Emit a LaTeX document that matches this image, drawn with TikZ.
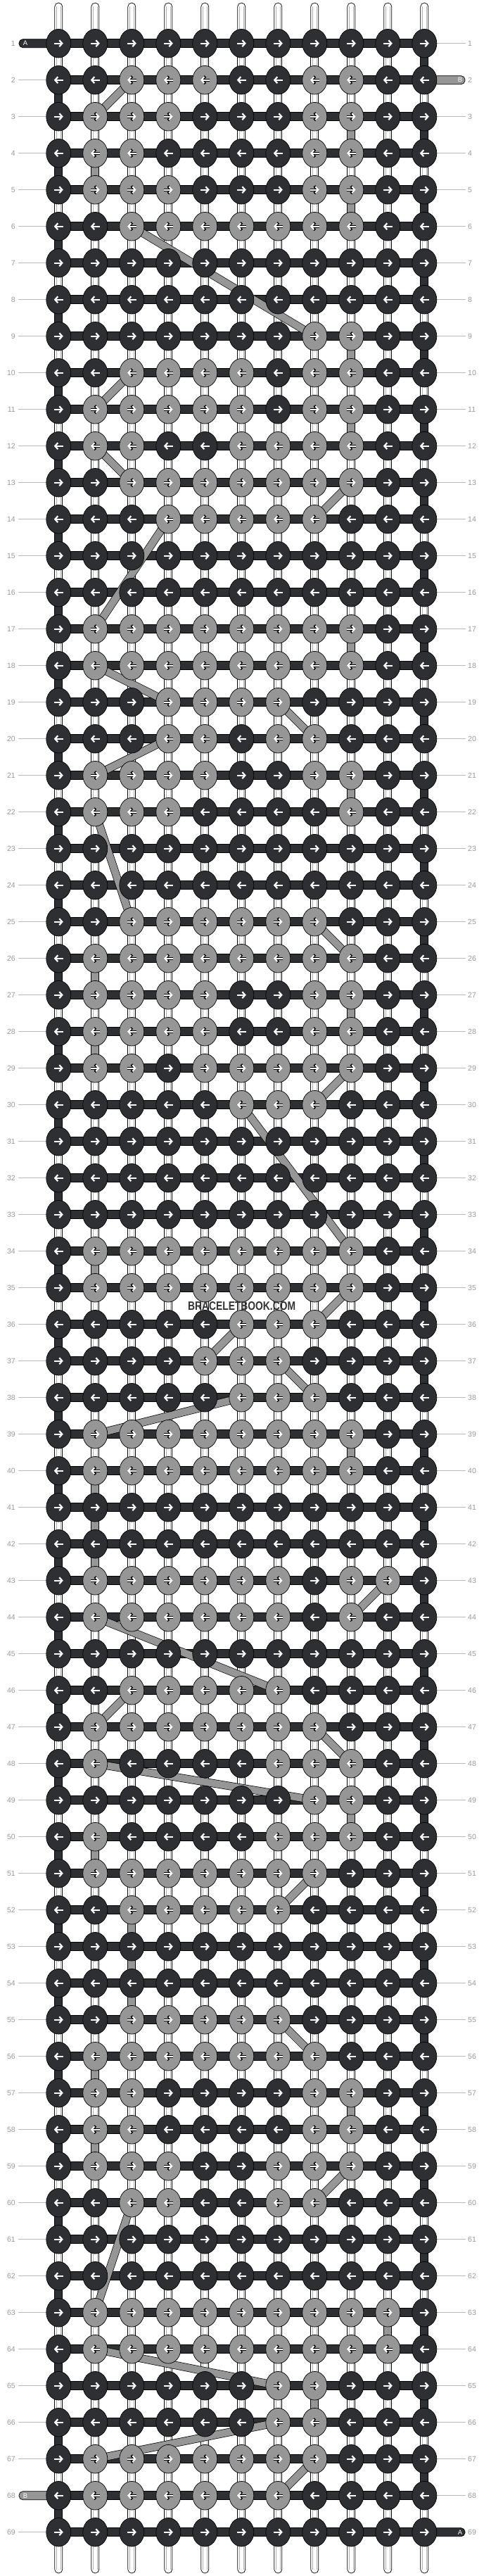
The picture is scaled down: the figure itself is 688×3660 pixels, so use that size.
\documentclass[tikz,border=0pt]{standalone}
\usepackage{fontspec}
\setmainfont{Liberation Sans}
\usepackage{graphicx}
\usetikzlibrary{shapes.geometric,arrows.meta}
\definecolor{knotD}{HTML}{2E2F33}
\definecolor{knotG}{HTML}{969696}
\definecolor{lblC}{HTML}{9A9A9A}
\definecolor{lineC}{HTML}{B8B8B8}
\definecolor{wmC}{HTML}{333333}
\pgfdeclarelayer{back}\pgfdeclarelayer{bg}\pgfdeclarelayer{mid}
\pgfsetlayers{back,bg,mid,main}
\def\knotrows{%
{0,0,0,0,0,0,0,0,0,0,0},%
{0,0,1,1,1,0,0,1,1,0,0},%
{0,1,1,1,0,0,0,1,1,0,0},%
{0,1,1,0,0,0,0,1,1,0,0},%
{0,1,1,1,0,0,0,1,1,0,0},%
{0,0,1,1,1,1,1,1,1,0,0},%
{0,0,0,0,0,0,0,0,0,0,0},%
{0,0,0,0,0,0,0,0,0,0,0},%
{0,0,0,0,0,0,0,1,1,0,0},%
{0,0,1,1,1,1,0,1,1,0,0},%
{0,1,1,1,1,1,0,1,1,0,0},%
{0,1,1,0,0,1,1,1,1,0,0},%
{0,0,1,1,1,1,1,1,1,0,0},%
{0,0,0,1,1,1,1,1,0,0,0},%
{0,0,0,0,0,0,0,0,0,0,0},%
{0,0,0,0,0,0,0,0,0,0,0},%
{0,1,1,1,1,1,1,1,1,0,0},%
{0,1,1,1,1,1,1,1,1,0,0},%
{0,0,0,1,1,1,1,0,0,0,0},%
{0,0,0,1,1,0,1,1,0,0,0},%
{0,1,1,1,1,0,0,1,1,0,0},%
{0,1,1,1,0,0,0,0,1,0,0},%
{0,0,0,0,0,0,0,0,0,0,0},%
{0,0,0,0,0,0,0,0,0,0,0},%
{0,0,1,1,1,1,1,1,0,0,0},%
{0,1,1,1,1,1,1,1,1,0,0},%
{0,1,1,1,1,0,0,1,1,0,0},%
{0,1,1,1,1,0,0,1,1,0,0},%
{0,1,1,0,1,1,1,1,1,0,0},%
{0,0,0,0,0,1,1,1,0,0,0},%
{0,0,0,0,0,0,0,0,0,0,0},%
{0,0,0,0,0,0,0,0,0,0,0},%
{0,0,0,0,0,0,0,0,0,0,0},%
{0,1,1,1,1,1,1,1,1,0,0},%
{0,1,1,1,1,1,1,1,1,0,0},%
{0,0,0,0,0,1,1,1,0,0,0},%
{0,0,0,0,1,1,1,0,0,0,0},%
{0,0,0,0,0,1,1,1,0,0,0},%
{0,1,1,1,1,1,1,1,1,0,0},%
{0,1,1,1,1,1,1,1,1,0,0},%
{0,0,0,0,0,0,0,0,0,0,0},%
{0,0,0,0,0,0,0,0,0,0,0},%
{0,1,1,1,1,1,1,0,1,1,0},%
{0,1,1,1,1,1,1,0,1,0,0},%
{0,0,0,0,0,0,0,0,0,0,0},%
{0,0,1,1,1,1,1,0,0,0,0},%
{0,1,1,1,1,1,1,1,0,0,0},%
{0,1,0,0,0,0,1,1,1,0,0},%
{0,0,0,0,0,0,0,1,1,0,0},%
{0,1,0,0,0,0,1,1,1,0,0},%
{0,1,1,1,1,1,1,1,0,0,0},%
{0,0,1,1,1,1,1,0,0,0,0},%
{0,0,0,0,0,0,0,0,0,0,0},%
{0,0,0,0,0,0,0,0,0,0,0},%
{0,0,1,1,1,1,1,0,0,0,0},%
{0,1,1,1,1,1,1,1,0,0,0},%
{0,1,1,0,0,0,0,1,1,0,0},%
{0,1,1,0,0,0,0,1,1,0,0},%
{0,1,1,1,0,0,1,1,1,0,0},%
{0,0,1,1,0,0,1,1,0,0,0},%
{0,0,0,0,0,0,0,0,0,0,0},%
{0,0,0,0,0,0,0,0,0,0,0},%
{0,1,1,1,1,1,1,1,1,1,0},%
{0,1,1,1,1,1,1,1,1,1,0},%
{0,0,0,0,0,0,1,1,0,0,0},%
{0,0,0,0,0,0,1,1,0,0,0},%
{0,1,1,1,1,1,1,1,0,0,0},%
{0,1,1,1,1,1,1,0,0,0,0},%
{0,0,0,0,0,0,0,0,0,0,0}%
}
\begin{document}
\begin{tikzpicture}[x=1pt,y=-1pt,
 knot/.style={ellipse,draw=black,line width=0.7pt,minimum width=35pt,minimum height=40.6pt,inner sep=0pt},
 arrW/.style={white,line width=2.2pt,-{Straight Barb[length=4pt,width=9pt]}},
 arrK/.style={black,line width=3.6pt,-{Straight Barb[length=4.6pt,width=10.6pt]}},
 wconn/.style={draw=black,fill=white,line width=0.7pt},
 wline/.style={draw=black!30,line width=0.6pt},
 hbar/.style={draw=black,fill=knotD,line width=0.7pt},
 gbar/.style={draw=black,fill=knotG,line width=0.7pt},
 strandOut/.style={black,line width=11.4pt},
 strandD/.style={knotD,line width=10pt},
 strandG/.style={knotG,line width=10pt},
 lbl/.style={text=lblC,font=\fontsize{10.5}{10.5}\selectfont,inner sep=0pt},
 lblline/.style={draw=lineC,line width=0.8pt},
 stubtxt/.style={text=white,font=\fontsize{9.5}{9.5}\selectfont,inner sep=0pt}
]
\useasboundingbox (0,0) rectangle (688,3660);
\begin{pgfonlayer}{back}
 \fill[white] (0,0) rectangle (688,3660);
\end{pgfonlayer}
% knots
\foreach \rowdat [count=\ri] in \knotrows {%
 \ifodd\ri \def\ax{-6.5}\def\bx{13}\else \def\ax{6.5}\def\bx{-13}\fi
 \foreach \vv [count=\ci] in \rowdat {%
   \ifnum\vv=1 \def\kc{knotG}\else \def\kc{knotD}\fi
   \node[knot,fill=\kc] (k-\ri-\ci) at ({83.3+52*(\ci-1)},{61.7+52*(\ri-1)}) {};
   \ifnum\vv=1 \draw[arrK] (k-\ri-\ci.center) ++(\ax,0) -- ++(\bx,0); \fi
   \draw[arrW] (k-\ri-\ci.center) ++(\ax,0) -- ++(\bx,0);
 }
}
% background connectors
\begin{pgfonlayer}{bg}
 \foreach \ri in {1,...,68}{
   \pgfmathtruncatemacro\rn{\ri+1}
   \foreach \ci in {1,...,11}{
     \draw[wconn] ([xshift=-5.5pt]k-\ri-\ci.center) rectangle ([xshift=5.5pt]k-\rn-\ci.center);
     \draw[wline] ([xshift=-2.6pt]k-\ri-\ci.center) -- ([xshift=-2.6pt]k-\rn-\ci.center);
     \draw[wline] ([xshift=2.6pt]k-\ri-\ci.center) -- ([xshift=2.6pt]k-\rn-\ci.center);
   }
 }
 \foreach \ci in {1,...,11}{
   \coordinate (top-\ci) at ({83.3+52*(\ci-1)},4);
   \coordinate (bot-\ci) at ({83.3+52*(\ci-1)},3656);
   \draw[wconn,rounded corners=5.5pt] ([xshift=-5.5pt]top-\ci) rectangle ([xshift=5.5pt]k-1-\ci.center);
   \draw[wline] ([xshift=-2.6pt,yshift=-5pt]top-\ci) -- ([xshift=-2.6pt]k-1-\ci.center);
   \draw[wline] ([xshift=2.6pt,yshift=-5pt]top-\ci) -- ([xshift=2.6pt]k-1-\ci.center);
   \draw[wconn,rounded corners=5.5pt] ([xshift=-5.5pt]k-69-\ci.center) rectangle ([xshift=5.5pt]bot-\ci);
   \draw[wline] ([xshift=-2.6pt]k-69-\ci.center) -- ([xshift=-2.6pt,yshift=5pt]bot-\ci);
   \draw[wline] ([xshift=2.6pt]k-69-\ci.center) -- ([xshift=2.6pt,yshift=5pt]bot-\ci);
 }
 % row labels and guide lines
 \foreach \ri in {1,...,69}{
   \node[lbl,anchor=east] (ll-\ri) at (22,{61.7+52*(\ri-1)}) {\ri};
   \node[lbl,anchor=west] (rl-\ri) at (665,{61.7+52*(\ri-1)}) {\ri};
   \coordinate (lls-\ri) at (26,{61.7+52*(\ri-1)});
   \coordinate (rle-\ri) at (662,{61.7+52*(\ri-1)});
 }
 \foreach \ri in {2,...,67,69}{
   \draw[lblline] (lls-\ri) -- (k-\ri-1.west);
 }
 \foreach \ri in {1,3,4,...,68}{
   \draw[lblline] (k-\ri-11.east) -- (rle-\ri);
 }
 % strand ends
 \coordinate (aL) at (27,61.7);
 \coordinate (bR) at (661,113.7);
 \coordinate (bL) at (27,{61.7+52*67});
 \coordinate (aR) at (661,{61.7+52*68});
 \draw[hbar,rounded corners=5.5pt] ([yshift=6pt]aL) rectangle ([yshift=-6pt]k-1-1.center);
 \draw[gbar,rounded corners=5.5pt] ([yshift=6pt]k-2-11.center) rectangle ([yshift=-6pt]bR);
 \draw[gbar,rounded corners=5.5pt] ([yshift=6pt]bL) rectangle ([yshift=-6pt]k-68-1.center);
 \draw[hbar,rounded corners=5.5pt] ([yshift=6pt]k-69-11.center) rectangle ([yshift=-6pt]aR);
 \node[stubtxt] (aLt) at (36,61.7) {A};
 \node[stubtxt] (bRt) at (654,113.7) {B};
 \node[stubtxt] (bLt) at (36,{61.7+52*67}) {B};
 \node[stubtxt] (aRt) at (654,{61.7+52*68}) {A};
\end{pgfonlayer}
% rows and carried strands
\begin{pgfonlayer}{mid}
 \foreach \ri in {1,...,69}{
   \draw[hbar] ([yshift=6pt]k-\ri-1.center) rectangle ([yshift=-6pt]k-\ri-11.center);
 }
 \foreach \ri in {1,...,68}{
   \pgfmathtruncatemacro\rn{\ri+1}
   \ifodd\ri \def\ac{11}\else \def\ac{1}\fi
   \draw[strandOut] (k-\ri-\ac.center) -- (k-\rn-\ac.center);
   \draw[strandD] (k-\ri-\ac.center) -- (k-\rn-\ac.center);
 }
 \foreach \ra/\ca/\rb/\cb in {2/3/3/2, 3/9/4/9, 4/2/5/2, 5/9/6/9, 6/3/9/8, 9/9/10/9, 10/3/11/2, 11/9/12/9, 12/2/13/3, 13/9/14/8, 14/4/17/2, 17/9/18/9, 18/2/19/4, 19/7/20/8, 20/4/21/2, 21/9/22/9, 22/2/25/3, 25/8/26/9, 26/2/27/2, 27/9/28/9, 28/2/29/2, 29/9/30/8, 30/6/34/9, 34/2/35/2, 35/9/36/8, 36/6/37/5, 37/7/38/8, 38/6/39/2, 39/9/40/9, 40/2/43/2, 43/10/44/9, 44/2/46/7, 46/3/47/2, 47/8/48/9, 48/2/49/8, 49/9/50/9, 50/2/51/2, 51/8/52/7, 52/3/55/3, 55/7/56/8, 56/2/57/2, 57/9/58/9, 58/2/59/2, 59/9/60/8, 60/3/63/2, 63/10/64/10, 64/2/65/7, 65/8/66/8, 66/7/67/2, 67/8/68/7}{
   \draw[strandOut] (k-\ra-\ca.center) -- (k-\rb-\cb.center);
   \draw[strandG] (k-\ra-\ca.center) -- (k-\rb-\cb.center);
 }
\end{pgfonlayer}
\node[text=wmC,inner sep=0pt] (wm) at (343.6,1856) {\resizebox{153pt}{12pt}{\bfseries BRACELETBOOK.COM}};
\end{tikzpicture}
\end{document}
